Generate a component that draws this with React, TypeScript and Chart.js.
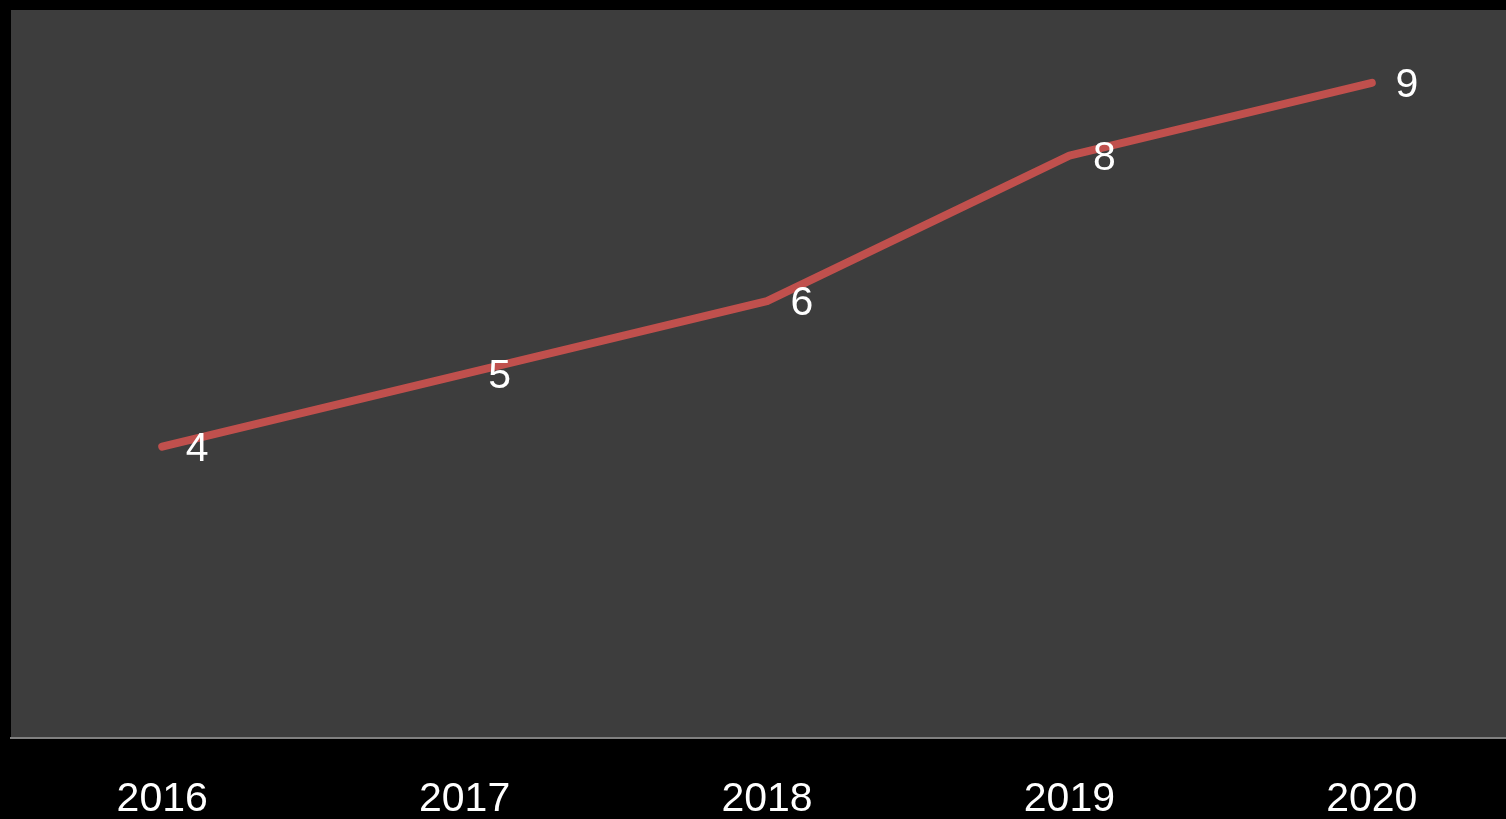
import React, { useEffect, useRef } from "react";
import { Chart, registerables } from "chart.js";

Chart.register(...registerables);

const categories = ["2016", "2017", "2018", "2019", "2020"];
const values = [4, 5, 6, 8, 9];
const yMin = 0;
const yMax = 10;

const FONT = "'Liberation Sans', Arial, sans-serif";

const plotBg = {
  id: "plotBg",
  beforeDraw(chart: any) {
    const { ctx, chartArea } = chart;
    ctx.save();
    ctx.fillStyle = "#000000";
    ctx.fillRect(0, 0, chart.width, chart.height);
    ctx.fillStyle = "#3d3d3d";
    ctx.fillRect(chartArea.left, chartArea.top, chartArea.right - chartArea.left, chartArea.bottom - chartArea.top);
    ctx.restore();
  },
};

const dataLabels = {
  id: "dataLabels",
  afterDatasetsDraw(chart: any) {
    const { ctx } = chart;
    const meta = chart.getDatasetMeta(0);
    const data = chart.data.datasets[0].data;
    ctx.save();
    ctx.fillStyle = "#ffffff";
    ctx.font = `41px ${FONT}`;
    ctx.textAlign = "center";
    ctx.textBaseline = "middle";
    meta.data.forEach((pt: any, i: number) => {
      ctx.fillText(String(data[i]), pt.x + 35, pt.y + 3);
    });
    ctx.restore();
  },
};

export default function App() {
  const ref = useRef<HTMLCanvasElement>(null);
  useEffect(() => {
    document.body.style.margin = "0";
    document.body.style.background = "#000";
    const chart = new Chart(ref.current!, {
      type: "line",
      data: {
        labels: categories,
        datasets: [
          {
            data: values,
            borderColor: "#c0504d",
            borderWidth: 8,
            borderCapStyle: "round",
            borderJoinStyle: "round",
            pointRadius: 0,
            tension: 0,
          },
        ],
      },
      options: {
        animation: false,
        responsive: false,
        layout: { padding: { left: 11, top: 10, right: 0, bottom: 0 } },
        plugins: { legend: { display: false }, tooltip: { enabled: false } },
        scales: {
          x: {
            offset: true,
            grid: { display: false, drawTicks: false },
            border: { display: true, color: "#808080", width: 2 },
            ticks: {
              color: "#ffffff",
              font: { family: FONT, size: 41 },
              padding: 37,
              maxRotation: 0,
              autoSkip: false,
            },
          },
          y: {
            display: false,
            min: yMin,
            max: yMax,
          },
        },
      },
      plugins: [plotBg, dataLabels],
    });
    return () => chart.destroy();
  }, []);
  return (
    <div style={{ position: "fixed", left: 0, top: 0, width: 1506, height: 819, overflow: "hidden", background: "#000" }}>
      <canvas ref={ref} width={1523} height={861} style={{ display: "block" }} />
    </div>
  );
}
